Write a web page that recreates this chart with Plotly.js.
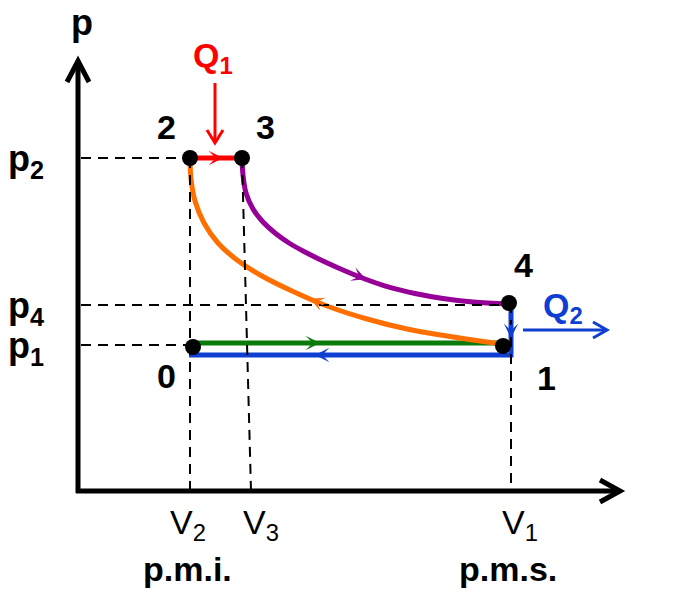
<!DOCTYPE html>
<html>
<head>
<meta charset="utf-8">
<script src="https://cdn.plot.ly/plotly-3.0.1.min.js"></script>
<style>html,body{margin:0;padding:0;background:#fff;}#chart{width:675px;height:600px;}</style>
</head>
<body>
<div id="chart"></div>
<script>
// ---- data (V, p in schematic units, origin at the axes corner) ----
const stateNames = ['0', '1', '2', '3', '4'];
const stateV = [116, 426, 113, 165, 432];
const stateP = [144, 145, 333, 333, 188];

// 0 -> 1 intake (green)
const intakeV = [116, 426];
const intakeP = [148, 148];
// 1 -> 2 compression (orange)
const compV = [426, 410, 370, 330, 290, 250, 215, 185, 160, 141, 127, 118, 114, 113];
const compP = [147, 149, 155, 162, 172, 185, 200, 215, 231, 248, 268, 290, 312, 333];
// 2 -> 3 heat addition (red)
const heatV = [113, 165];
const heatP = [333, 333];
// 3 -> 4 expansion (purple)
const expV = [165, 166, 169, 176, 186, 198, 212, 228, 246, 266, 288, 312, 338, 366, 396, 432];
const expP = [333, 316, 298, 282, 269, 258, 248, 239, 230, 221, 212, 203.8, 197.5, 192.5, 189, 187];
// 4 -> 1 -> 0 exhaust (blue)
const exhV = [434, 434, 112];
const exhP = [188, 136, 136];

// reference levels / tick labels
const pTickVals = [333, 186, 146];
const pTickText = ['p<sub>2</sub>', 'p<sub>4</sub>', 'p<sub>1</sub>'];
const vTickVals = [113, 174, 434];
const vTickText = ['V<sub>2</sub>', 'V<sub>3</sub>', 'V<sub>1</sub>'];
const vTickNote = ['p.m.i.', '', 'p.m.s.'];
const pDashEnd = [113, 432, 116];
const vDashTop = [333, 333, 188];
const vDashTopV = [113, 165, 434];

// ---- styles ----
const FONT = 'Liberation Sans, Arial, sans-serif';
const RED = '#ff0000', ORANGE = '#ff6f00', PURPLE = '#960096', GREEN = '#0a7a0a', BLUE = '#0e3fd2';
const LW = 5;

const traces = [];
const line = (x, y, color) => ({x, y, mode: 'lines', type: 'scatter', hoverinfo: 'skip',
  line: {color, width: LW, shape: 'spline', smoothing: 1}, showlegend: false});
traces.push(line(intakeV, intakeP, GREEN));
traces.push(line(compV, compP, ORANGE));
traces.push(line(expV, expP, PURPLE));
traces.push(line(heatV, heatP, RED));
const exh = line(exhV, exhP, BLUE); exh.line.shape = 'linear';
traces.push(exh);
traces.push({x: stateV, y: stateP, mode: 'markers', type: 'scatter', hoverinfo: 'skip', showlegend: false,
  marker: {color: '#000', size: 16}});

const shapes = [];
const dash = {color: '#000', width: 2, dash: '10px,7px'};
// horizontal dashed levels
pTickVals.forEach((p, i) => shapes.push({type: 'line', xref: 'x', yref: 'y', x0: 4, x1: pDashEnd[i], y0: p, y1: p, line: dash}));
// vertical dashed levels
vTickVals.forEach((v, i) => shapes.push({type: 'line', xref: 'x', yref: 'y', x0: vDashTopV[i], x1: v, y0: vDashTop[i], y1: 0, line: dash}));
// axes
const axisLine = {color: '#000', width: 5};
shapes.push({type: 'line', x0: -1, x1: 541, y0: 0, y1: 0, line: axisLine});
shapes.push({type: 'line', x0: 1, x1: 1, y0: -2, y1: 428, line: axisLine});
shapes.push({type: 'path', path: 'M 523,11 L 543,0 L 523,-11', line: {color: '#000', width: 5}});
shapes.push({type: 'path', path: 'M -10,409 L 1,430 L 12,409', line: {color: '#000', width: 5}});
// Q1 arrow (red, downward) and Q2 arrow (blue, rightward)
shapes.push({type: 'line', x0: 138, x1: 138, y0: 408, y1: 350, line: {color: RED, width: 3}});
shapes.push({type: 'path', path: 'M 130,361 L 138,348 L 146,361', line: {color: RED, width: 3}});
shapes.push({type: 'line', x0: 446, x1: 527, y0: 161, y1: 161, line: {color: BLUE, width: 3}});
shapes.push({type: 'path', path: 'M 516,169 L 530,161 L 516,153', line: {color: BLUE, width: 3}});

const annotations = [];
// direction arrows on the paths
const dirArrows = [
  [146, 333, 130, 333, RED],
  [289, 211.7, 273, 218.1, PURPLE],
  [233, 192.3, 248, 185.9, ORANGE],
  [243, 148, 228, 148, GREEN],
  [238, 136, 253, 136, BLUE],
  [434, 153, 434, 168, BLUE]
];
dirArrows.forEach(a => annotations.push({x: a[0], y: a[1], ax: a[2], ay: a[3], axref: 'x', ayref: 'y',
  text: '', showarrow: true, arrowhead: 3, arrowsize: 1.2, arrowwidth: 2, arrowcolor: a[4], standoff: 0}));

const txt = (x, y, text, size, color, bold, extra) => Object.assign({x, y, text: bold ? '<b>' + text + '</b>' : text,
  showarrow: false, xanchor: 'center', yanchor: 'middle', font: {family: FONT, size, color}}, extra || {});

// state labels
const stateLabelPos = {'0': [89, 115], '1': [469, 113], '2': [89, 364], '3': [188, 364], '4': [446, 226]};
stateNames.forEach(n => annotations.push(txt(stateLabelPos[n][0], stateLabelPos[n][1], n, 34, '#000', true)));
// axis title
annotations.push(txt(5, 469, 'p', 36, '#000', true));
// p tick labels
pTickVals.forEach((p, i) => annotations.push(txt(-51, p - 3, pTickText[i], 36, '#000', true)));
// V tick labels
const vLabShift = [-2, 10, 9];
vTickVals.forEach((v, i) => {
  annotations.push(txt(v, -33, vTickText[i], 34, '#000', false, {xshift: vLabShift[i]}));
  if (vTickNote[i]) annotations.push(txt(v - 3, -78, vTickNote[i], 34, '#000', true));
});
// heat labels
annotations.push(txt(136, 434, 'Q<sub>1</sub>', 34, RED, true));
annotations.push(txt(486, 184, 'Q<sub>2</sub>', 34, BLUE, true));

const layout = {
  width: 675, height: 600, margin: {l: 0, r: 0, t: 0, b: 0},
  paper_bgcolor: '#fff', plot_bgcolor: '#fff',
  xaxis: {range: [-77, 598], visible: false, fixedrange: true},
  yaxis: {range: [-109, 491], visible: false, fixedrange: true},
  shapes, annotations, showlegend: false
};
Plotly.newPlot('chart', traces, layout, {staticPlot: true, displayModeBar: false});
</script>
</body>
</html>
